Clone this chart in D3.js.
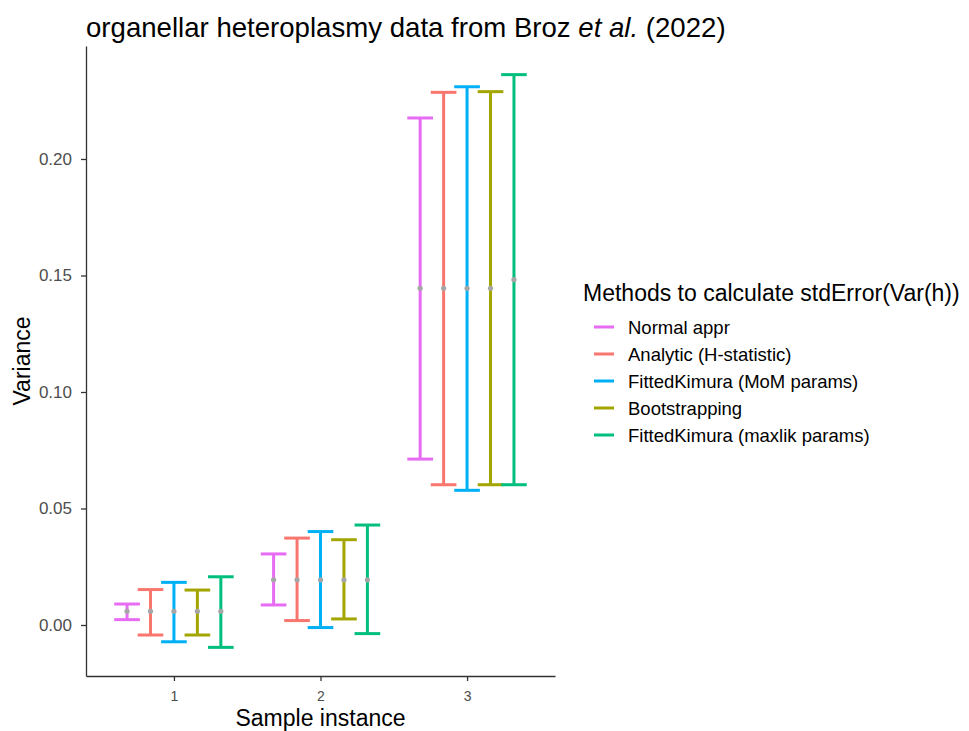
<!DOCTYPE html>
<meta charset="utf-8">
<head>
<script src="https://d3js.org/d3.v7.min.js"></script>
<style>
body { margin: 0; background: #fff; }
svg { font-family: "Liberation Sans", Arial, sans-serif; }
</style>
</head>
<body>
<div id="chart"></div>
<script>
// data
var samples = ["1", "2", "3"];
var methods = ["Normal appr", "Analytic (H-statistic)", "FittedKimura (MoM params)", "Bootstrapping", "FittedKimura (maxlik params)"];
var colors = ["#E76BF3", "#F8766D", "#00B0F6", "#A3A500", "#00BF7D"];
// per sample, one value per method
var means = [
  [0.0059, 0.0059, 0.0059, 0.0059, 0.0059],
  [0.0194, 0.0194, 0.0194, 0.0194, 0.0194],
  [0.1445, 0.1445, 0.1445, 0.1445, 0.1482]
];
var lower = [
  [0.0023, -0.0043, -0.0072, -0.0043, -0.0096],
  [0.0086, 0.0019, -0.0011, 0.0026, -0.0037],
  [0.0712, 0.0602, 0.0578, 0.0602, 0.0602]
];
var upper = [
  [0.0090, 0.0152, 0.0183, 0.0150, 0.0207],
  [0.0305, 0.0373, 0.0401, 0.0366, 0.0429],
  [0.2176, 0.2286, 0.2310, 0.2289, 0.2362]
];
var yTicks = [0, 0.05, 0.10, 0.15, 0.20];

var W = 969, H = 731;
var pLeft = 86, pRight = 555, pTop = 46, pBottom = 676;

var svg = d3.select("#chart").append("svg").attr("width", W).attr("height", H);

// x: discrete positions 1..3 with ggplot 0.6 expansion
var x = d3.scaleLinear().domain([0.4, 3.6]).range([pLeft, pRight]);
var lo = d3.min(lower, function(r) { return d3.min(r); });
var hi = d3.max(upper, function(r) { return d3.max(r); });
var pad = (hi - lo) * 0.05;
var y = d3.scaleLinear().domain([lo - pad, hi + pad]).range([pBottom, pTop]);

var dodge = 0.16, capW = 0.175;

var rows = [];
samples.forEach(function(s, i) {
  methods.forEach(function(m, j) {
    rows.push({s: i + 1, j: j, mean: means[i][j], lo: lower[i][j], hi: upper[i][j]});
  });
});

var g = svg.append("g");
rows.forEach(function(d) {
  var cx = d.s + (d.j - 2) * dodge;
  var col = colors[d.j];
  g.append("line").attr("x1", x(cx)).attr("x2", x(cx)).attr("y1", y(d.lo)).attr("y2", y(d.hi))
    .attr("stroke", col).attr("stroke-width", 3);
  [d.lo, d.hi].forEach(function(v) {
    g.append("line").attr("x1", x(cx - capW / 2)).attr("x2", x(cx + capW / 2))
      .attr("y1", y(v)).attr("y2", y(v)).attr("stroke", col).attr("stroke-width", 3);
  });
});
rows.forEach(function(d) {
  var cx = d.s + (d.j - 2) * dodge;
  g.append("circle").attr("cx", x(cx)).attr("cy", y(d.mean)).attr("r", 2.6).attr("fill", "#a6a6a6");
});

// axes
var yAxis = svg.append("g").attr("transform", "translate(" + pLeft + ",0)")
  .call(d3.axisLeft(y).tickValues(yTicks).tickFormat(d3.format(".2f")).tickSize(5).tickSizeOuter(0));
var xAxis = svg.append("g").attr("transform", "translate(0," + pBottom + ")")
  .call(d3.axisBottom(x).tickValues([1, 2, 3]).tickFormat(function(d, i) { return samples[i]; }).tickSize(5).tickSizeOuter(0));
[yAxis, xAxis].forEach(function(a) {
  a.select(".domain").attr("stroke", "#333").attr("stroke-width", 1.3);
  a.selectAll(".tick line").attr("stroke", "#333").attr("stroke-width", 1.3);
  a.selectAll(".tick text").attr("fill", "#4d4d4d").attr("font-family", "Liberation Sans, Arial, sans-serif");
});
yAxis.selectAll(".tick text").attr("font-size", 17).attr("x", -14);
xAxis.selectAll(".tick text").attr("font-size", 14).attr("y", 15);

// titles
svg.append("text").attr("x", pLeft).attr("y", 37).attr("font-size", 27.6).attr("fill", "#000")
  .html('organellar heteroplasmy data from Broz <tspan font-style="italic">et al.</tspan> (2022)');
svg.append("text").attr("x", (pLeft + pRight) / 2).attr("y", 726).attr("text-anchor", "middle")
  .attr("font-size", 23).text("Sample instance");
svg.append("text").attr("transform", "translate(30," + (pTop + pBottom) / 2 + ") rotate(-90)")
  .attr("text-anchor", "middle").attr("font-size", 23).text("Variance");

// legend
var lg = svg.append("g").attr("transform", "translate(583,0)");
lg.append("text").attr("x", 0).attr("y", 301).attr("font-size", 23).text("Methods to calculate stdError(Var(h))");
methods.forEach(function(m, j) {
  var yy = 327 + j * 27;
  lg.append("line").attr("x1", 11).attr("x2", 31).attr("y1", yy).attr("y2", yy)
    .attr("stroke", colors[j]).attr("stroke-width", 3);
  lg.append("text").attr("x", 45).attr("y", yy + 6.5).attr("font-size", 18.5).text(m);
});
</script>
</body>
